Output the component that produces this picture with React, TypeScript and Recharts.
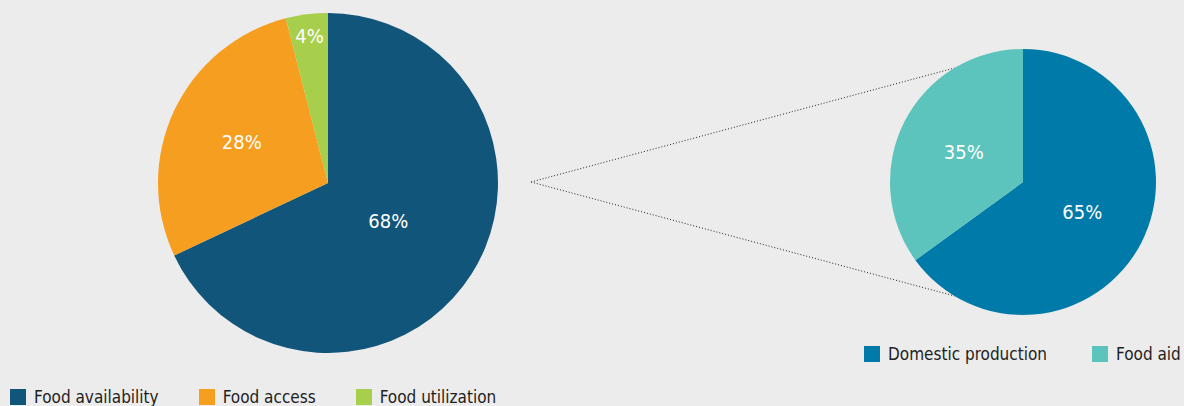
import { PieChart, Pie, Cell, Legend } from 'recharts';

const pillarNames = ['Food availability', 'Food access', 'Food utilization'];
const pillarShares = [68, 28, 4];
const pillarColors = ['#12557a', '#f69e1f', '#a8cf4b'];

const sourceNames = ['Domestic production', 'Food aid'];
const sourceShares = [65, 35];
const sourceColors = ['#007aa9', '#5cc4bd'];

const FONT = '"Liberation Sans Narrow", "DejaVu Sans Condensed", "Roboto", sans-serif';
const BG = '#ececec';

const pillarData = pillarNames.map((name, i) => ({ name, value: pillarShares[i] }));
const sourceData = sourceNames.map((name, i) => ({ name, value: sourceShares[i] }));

// geometry of the two pies
const LEFT = { cx: 328, cy: 183, r: 170 };
const RIGHT_OFFSET = 860;
const RIGHT = { cx: 163, cy: 182, r: 133 };
const NO_MARGIN = { top: 0, right: 0, bottom: 0, left: 0 };

const RADIAN = Math.PI / 180;

function makeLabel(ratios: number[]) {
  return function PctLabel(props: any) {
    const { cx, cy, midAngle, outerRadius, index, value } = props;
    const r = outerRadius * ratios[index];
    const x = cx + r * Math.cos(-midAngle * RADIAN);
    const y = cy + r * Math.sin(-midAngle * RADIAN);
    return (
      <text
        x={x}
        y={y}
        fill="#ffffff"
        textAnchor="middle"
        dominantBaseline="central"
        style={{ fontFamily: FONT, fontSize: 20 }}
      >
        {`${value}%`}
      </text>
    );
  };
}

function LegendContent({ names, colors, gap }: { names: string[]; colors: string[]; gap: number }) {
  return (
    <div
      style={{
        display: 'flex',
        alignItems: 'center',
        gap,
        fontFamily: FONT,
        fontSize: 17,
        color: '#1e1e1e',
        whiteSpace: 'nowrap',
      }}
    >
      {names.map((name, i) => (
        <div key={name} style={{ display: 'flex', alignItems: 'center' }}>
          <span style={{ display: 'inline-block', width: 16, height: 16, background: colors[i], marginRight: 8 }} />
          <span>{name}</span>
        </div>
      ))}
    </div>
  );
}

export default function App() {
  // connector lines from the left pie to the right pie's rim
  const rcx = RIGHT_OFFSET + RIGHT.cx;
  const rcy = RIGHT.cy;
  const a = 121 * RADIAN;
  const startX = LEFT.cx + LEFT.r + 33;
  const startY = 182;
  const endX = rcx + RIGHT.r * Math.cos(a);
  const endTop = rcy - RIGHT.r * Math.sin(a);
  const endBottom = rcy + RIGHT.r * Math.sin(a);

  return (
    <div style={{ position: 'fixed', left: 0, top: 0, width: 1184, height: 406, background: BG, overflow: 'hidden' }}>
      <svg width={1184} height={406} style={{ position: 'absolute', left: 0, top: 0 }}>
        <line x1={startX} y1={startY} x2={endX} y2={endTop} stroke="#222" strokeWidth={1} strokeDasharray="1 2" />
        <line x1={startX} y1={startY} x2={endX} y2={endBottom} stroke="#222" strokeWidth={1} strokeDasharray="1 2" />
      </svg>
      <div style={{ position: 'absolute', left: 0, top: 0 }}>
        <PieChart width={700} height={406} margin={NO_MARGIN}>
          <Pie
            data={pillarData}
            dataKey="value"
            nameKey="name"
            cx={LEFT.cx}
            cy={LEFT.cy}
            outerRadius={LEFT.r}
            startAngle={90}
            endAngle={-270}
            stroke="none"
            labelLine={false}
            label={makeLabel([0.42, 0.56, 0.87])}
            isAnimationActive={false}
          >
            {pillarData.map((d, i) => (
              <Cell key={d.name} fill={pillarColors[i]} />
            ))}
          </Pie>
          <Legend
            content={<LegendContent names={pillarNames} colors={pillarColors} gap={40} />}
            wrapperStyle={{ position: 'absolute', left: 10, top: 387, width: 680 }}
          />
        </PieChart>
      </div>
      <div style={{ position: 'absolute', left: RIGHT_OFFSET, top: 0 }}>
        <PieChart width={324} height={406} margin={NO_MARGIN}>
          <Pie
            data={sourceData}
            dataKey="value"
            nameKey="name"
            cx={RIGHT.cx}
            cy={RIGHT.cy}
            outerRadius={RIGHT.r}
            startAngle={90}
            endAngle={-270}
            stroke="none"
            labelLine={false}
            label={makeLabel([0.5, 0.5])}
            isAnimationActive={false}
          >
            {sourceData.map((d, i) => (
              <Cell key={d.name} fill={sourceColors[i]} />
            ))}
          </Pie>
          <Legend
            content={<LegendContent names={sourceNames} colors={sourceColors} gap={45} />}
            wrapperStyle={{ position: 'absolute', left: 4, top: 344, width: 320 }}
          />
        </PieChart>
      </div>
    </div>
  );
}
